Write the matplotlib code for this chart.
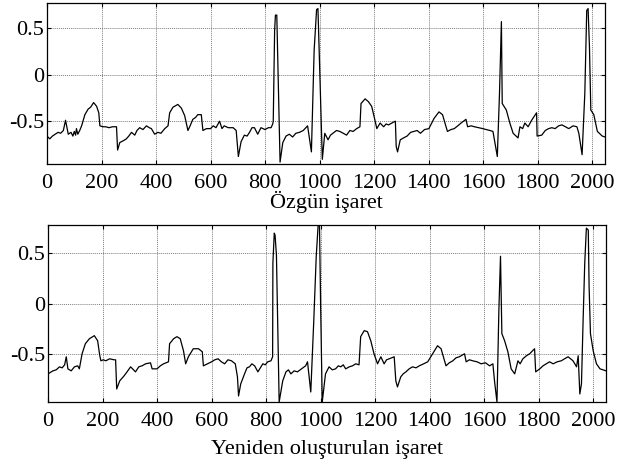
import matplotlib
matplotlib.use('Agg')
import matplotlib.pyplot as plt

# original signal
x_top = [0, 10, 20, 30, 41, 50, 60, 68, 78, 88, 95, 100, 105, 108, 113, 120, 127, 139,
         151, 160, 171, 182, 190, 194, 205, 215, 228, 240, 255, 259, 267, 280, 291, 300,
         310, 322, 330, 340, 352, 365, 375, 383, 395, 407, 418, 432, 444, 450, 462, 480,
         493, 505, 517, 525, 535, 545, 553, 566, 572, 585, 600, 610, 620, 633, 642, 650,
         665, 683, 694, 702, 712, 724, 734, 743, 752, 761, 773, 785, 800, 812, 822, 828,
         830, 835, 838, 843, 855, 865, 877, 889, 901, 913, 926, 940, 956, 970, 980, 989,
         994, 1010, 1019, 1031, 1040, 1049, 1062, 1074, 1087, 1099, 1111, 1123, 1136,
         1148, 1152, 1167, 1179, 1191, 1200, 1210, 1222, 1235, 1244, 1253, 1265, 1278,
         1281, 1286, 1296, 1308, 1321, 1334, 1346, 1358, 1370, 1385, 1401, 1420, 1438,
         1451, 1469, 1482, 1494, 1507, 1519, 1537, 1543, 1556, 1568, 1584, 1599, 1611,
         1625, 1636, 1652, 1660, 1667, 1670, 1685, 1698, 1710, 1728, 1735, 1745, 1753,
         1765, 1778, 1796, 1798, 1815, 1828, 1840, 1852, 1864, 1877, 1889, 1902, 1914,
         1930, 1944, 1951, 1963, 1973, 1980, 1985, 1990, 1995, 2006, 2019, 2037, 2047]
y_top = [-0.66, -0.69, -0.66, -0.64, -0.62, -0.63, -0.6, -0.49, -0.64, -0.62, -0.66,
         -0.61, -0.65, -0.58, -0.64, -0.60, -0.55, -0.43, -0.37, -0.35, -0.30, -0.34,
         -0.41, -0.55, -0.56, -0.56, -0.57, -0.56, -0.56, -0.81, -0.73, -0.71, -0.69,
         -0.66, -0.62, -0.65, -0.60, -0.57, -0.59, -0.55, -0.57, -0.58, -0.64, -0.62,
         -0.63, -0.58, -0.55, -0.41, -0.35, -0.32, -0.36, -0.44, -0.6, -0.55, -0.48,
         -0.46, -0.43, -0.43, -0.6, -0.58, -0.58, -0.55, -0.57, -0.5, -0.58, -0.55,
         -0.57, -0.57, -0.6, -0.88, -0.72, -0.65, -0.66, -0.62, -0.57, -0.57, -0.64,
         -0.57, -0.59, -0.57, -0.57, -0.53, -0.5, 0.47, 0.64, 0.64, -0.94, -0.73,
         -0.66, -0.64, -0.67, -0.63, -0.62, -0.60, -0.55, -0.83, 0.26, 0.70, 0.71,
         -0.91, -0.63, -0.70, -0.65, -0.63, -0.60, -0.61, -0.63, -0.65, -0.60, -0.61,
         -0.58, -0.56, -0.31, -0.26, -0.29, -0.34, -0.45, -0.58, -0.52, -0.56, -0.53,
         -0.54, -0.52, -0.50, -0.77, -0.83, -0.70, -0.68, -0.66, -0.62, -0.61, -0.60,
         -0.63, -0.59, -0.58, -0.47, -0.40, -0.43, -0.61, -0.59, -0.58, -0.55, -0.52,
         -0.48, -0.56, -0.55, -0.56, -0.57, -0.58, -0.59, -0.60, -0.61, -0.88, -0.2,
         0.57, -0.31, -0.38, -0.52, -0.63, -0.68, -0.56, -0.58, -0.52, -0.56, -0.49,
         -0.41, -0.66, -0.65, -0.60, -0.58, -0.57, -0.58, -0.55, -0.54, -0.56, -0.58,
         -0.55, -0.56, -0.63, -0.86, -0.2, 0.69, 0.71, 0.3, -0.38, -0.43, -0.61, -0.66,
         -0.67]

# reconstructed signal
x_bot = [0, 18, 30, 42, 52, 61, 67, 73, 85, 97, 109, 115, 125, 137, 152, 170, 182, 190,
         194, 203, 212, 226, 242, 248, 252, 263, 279, 290, 303, 321, 333, 345, 358, 376,
         382, 400, 412, 424, 442, 446, 461, 473, 485, 497, 505, 515, 533, 552, 566, 570,
         585, 600, 612, 624, 636, 648, 660, 673, 687, 695, 699, 707, 721, 730, 739, 748,
         758, 770, 788, 797, 806, 818, 824, 825, 830, 833, 838, 848, 861, 873, 882, 891,
         903, 915, 930, 945, 952, 964, 975, 984, 991, 996, 1000, 1006, 1018, 1031, 1043,
         1055, 1065, 1074, 1083, 1092, 1105, 1117, 1129, 1141, 1147, 1160, 1172, 1184,
         1196, 1209, 1221, 1233, 1242, 1252, 1270, 1276, 1282, 1294, 1303, 1313, 1325,
         1337, 1350, 1362, 1378, 1393, 1411, 1429, 1442, 1460, 1472, 1485, 1497, 1509,
         1528, 1534, 1546, 1558, 1574, 1589, 1605, 1620, 1632, 1638, 1647, 1654, 1660,
         1665, 1675, 1687, 1699, 1712, 1724, 1732, 1742, 1755, 1767, 1785, 1789, 1804,
         1816, 1828, 1840, 1853, 1868, 1883, 1895, 1908, 1926, 1939, 1945, 1951, 1957,
         1963, 1969, 1975, 1982, 1985, 1990, 2000, 2012, 2025, 2047]
y_bot = [-0.70, -0.67, -0.66, -0.63, -0.64, -0.61, -0.53, -0.65, -0.67, -0.63, -0.62,
         -0.65, -0.5, -0.4, -0.35, -0.32, -0.37, -0.52, -0.57, -0.56, -0.57, -0.55,
         -0.56, -0.56, -0.85, -0.77, -0.72, -0.68, -0.63, -0.68, -0.63, -0.62, -0.6,
         -0.59, -0.65, -0.65, -0.62, -0.6, -0.58, -0.4, -0.35, -0.33, -0.35, -0.47,
         -0.6, -0.53, -0.45, -0.45, -0.48, -0.62, -0.60, -0.58, -0.56, -0.55, -0.58,
         -0.6, -0.56, -0.57, -0.6, -0.73, -0.92, -0.8, -0.7, -0.64, -0.63, -0.60,
         -0.62, -0.68, -0.6, -0.61, -0.58, -0.57, -0.53, 0.4, 0.7, 0.68, 0.48, -0.98,
         -0.77, -0.68, -0.66, -0.70, -0.67, -0.68, -0.65, -0.62, -0.58, -0.88, -0.17,
         0.47, 0.78, 0.78, 0.0, -0.98, -0.70, -0.63, -0.66, -0.65, -0.62, -0.63, -0.61,
         -0.65, -0.63, -0.62, -0.60, -0.61, -0.33, -0.27, -0.28, -0.37, -0.5, -0.6,
         -0.53, -0.6, -0.56, -0.55, -0.53, -0.77, -0.83, -0.73, -0.70, -0.68, -0.65,
         -0.63, -0.64, -0.62, -0.60, -0.58, -0.5, -0.42, -0.45, -0.62, -0.59, -0.57,
         -0.54, -0.53, -0.5, -0.58, -0.56, -0.57, -0.58, -0.6, -0.59, -0.62, -0.6,
         -0.77, -0.98, -0.07, 0.47, -0.3, -0.37, -0.48, -0.65, -0.70, -0.57, -0.60,
         -0.55, -0.52, -0.5, -0.45, -0.68, -0.65, -0.62, -0.6, -0.58, -0.6, -0.58,
         -0.57, -0.55, -0.53, -0.57, -0.63, -0.52, -0.9, -0.8, -0.17, 0.4, 0.75, 0.73,
         0.17, -0.3, -0.47, -0.6, -0.65, -0.67]

xticks = [0, 200, 400, 600, 800, 1000, 1200, 1400, 1600, 1800, 2000]
yticks = [-0.5, 0, 0.5]
yticklabels = ['-0.5', '0', '0.5']

plt.rcParams['font.family'] = ['Liberation Serif', 'DejaVu Serif']
plt.rcParams['font.size'] = 16

fig = plt.figure(figsize=(6.3, 4.68), dpi=100)
ax1 = fig.add_axes([0.0746, 0.6496, 0.8857, 0.344])
ax2 = fig.add_axes([0.0762, 0.141, 0.8857, 0.378])


def style(ax, x, y, ylim, label, lpad):
    ax.plot(x, y, color='black', lw=0.9)
    ax.set_xlim(0, 2047)
    ax.set_ylim(*ylim)
    ax.set_xticks(xticks)
    ax.set_yticks(yticks)
    ax.set_yticklabels(yticklabels)
    ax.grid(True, color='#7f7f7f', linestyle=(0, (1, 1)), lw=0.7)
    ax.tick_params(direction='in', top=True, right=True, length=3)
    ax.tick_params(axis='x', pad=7)
    ax.tick_params(axis='y', pad=2)
    for s in ax.spines.values():
        s.set_linewidth(0.9)
    ax.set_xlabel(label, labelpad=lpad)


style(ax1, x_top, y_top, (-0.96, 0.77), 'Özgün işaret', -1)
style(ax2, x_bot, y_bot, (-0.98, 0.78), 'Yeniden oluşturulan işaret', 7)

fig.savefig('out.png', dpi=100)
